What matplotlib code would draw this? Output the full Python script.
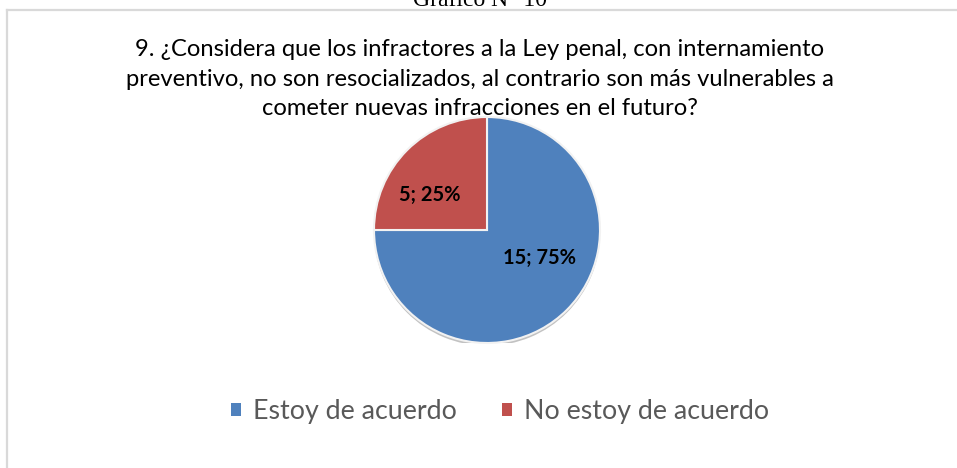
import matplotlib
matplotlib.use("Agg")
import matplotlib.pyplot as plt
from matplotlib.patches import Rectangle, Wedge
from matplotlib.lines import Line2D
import numpy as np

categories = ["Estoy de acuerdo", "No estoy de acuerdo"]
values = [15, 5]
colors = ["#4F81BD", "#C0504D"]
title = ("9. ¿Considera que los infractores a la Ley penal, con internamiento\n"
         "preventivo, no son resocializados, al contrario son más vulnerables a\n"
         "cometer nuevas infracciones en el futuro?")
header = "Gráfico N° 10"

W, H = 957, 468
fig = plt.figure(figsize=(W / 100, H / 100), dpi=100)
fig.patch.set_facecolor("white")

# chart-area border (top and left visible)
fig.add_artist(Line2D([7 / W, 7 / W], [0, 1 - 9.5 / H], transform=fig.transFigure,
                      color="#D9D9D9", lw=1.6))
fig.add_artist(Line2D([7 / W, 1], [1 - 9.5 / H, 1 - 9.5 / H], transform=fig.transFigure,
                      color="#D9D9D9", lw=1.6))

# header cut at top (as in the source scan)
fig.text(480 / W, 1 - 0 / H, header, ha="center", va="center",
         family="Liberation Serif", fontsize=17, color="black")

# title
fig.text(480 / W, 1 - 79 / H, title, ha="center", va="center",
         family="Lato", fontsize=17.1, color="black", linespacing=1.5)

# pie
cx, cy, r = 487, 230, 113
ax = fig.add_axes([(cx - r) / W, (H - cy - r) / H, 2 * r / W, 2 * r / H])

# soft shadow
shadow = Wedge((0.0, -0.025), 1.0, 0, 360, facecolor="#9a9a9a", edgecolor="none",
               alpha=0.6, zorder=0)
ax.add_patch(shadow)

wedges, _ = ax.pie(values, colors=colors, startangle=90, counterclock=False,
                   radius=1.0, wedgeprops=dict(edgecolor="#F2F2F2", linewidth=1.5))
for w in wedges:
    w.set_zorder(1)
ax.set_xlim(-1, 1)
ax.set_ylim(-1, 1)
ax.set_aspect("equal")
ax.axis("off")

total = sum(values)
label_pos = [(0.53, -28), (0.59, 148.5)]  # (radius fraction, angle deg)
for v, (d, a) in zip(values, label_pos):
    t = np.deg2rad(a)
    ax.text(d * np.cos(t), d * np.sin(t), f"{v}; {round(100 * v / total)}%",
            ha="center", va="center", family="Lato", fontweight="bold",
            fontsize=14.5, color="black", zorder=3)

# legend
handles = [Rectangle((0, 0), 1, 1, facecolor=c, edgecolor="none") for c in colors]
leg = fig.legend(handles, categories, loc="center", bbox_to_anchor=(500 / W, 1 - 412 / H),
                 ncol=2, frameon=False, handlelength=0.37, handleheight=0.37,
                 handletextpad=0.45, columnspacing=1.7,
                 prop=dict(family="Lato", size=19.3))
for t in leg.get_texts():
    t.set_color("#595959")

fig.savefig("out.png", dpi=100, facecolor="white")
